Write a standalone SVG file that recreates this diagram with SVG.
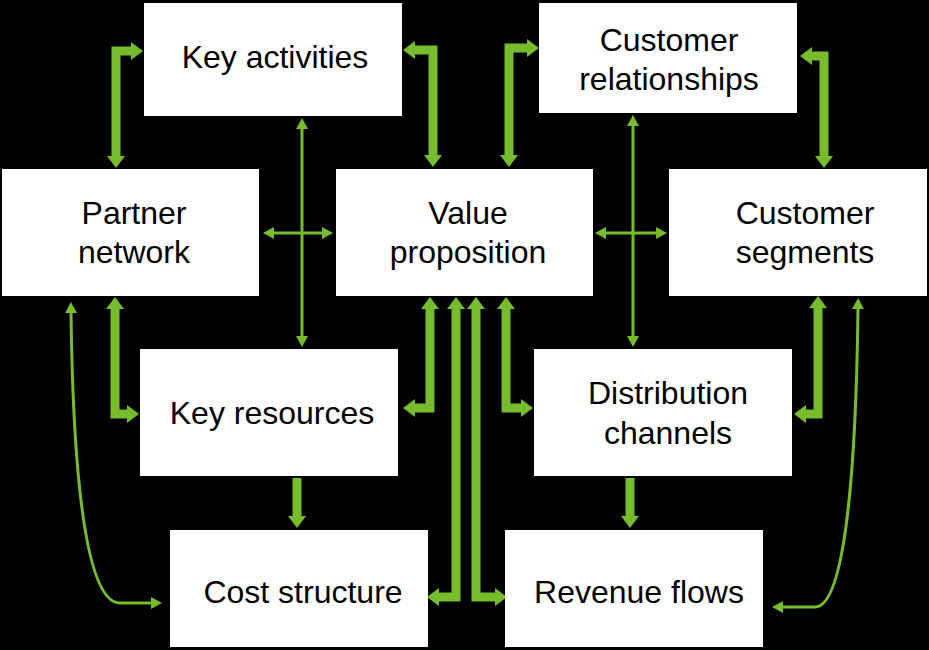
<svg xmlns="http://www.w3.org/2000/svg" width="929" height="650" viewBox="0 0 929 650">
<style>
.box{fill:#ffffff;stroke:none}
.lbl{font-family:"Liberation Sans",Arial,sans-serif;font-size:32px;fill:#000000;text-anchor:middle}
.thick{fill:none;stroke:#77BC2C;stroke-width:9;stroke-linejoin:miter;marker-start:url(#hk);marker-end:url(#hk)}
.thick1{fill:none;stroke:#77BC2C;stroke-width:9;marker-end:url(#hk)}
.thin{fill:none;stroke:#77BC2C;stroke-width:3;marker-start:url(#hn);marker-end:url(#hn)}
</style>
<defs>
<marker id="hk" viewBox="0 0 12 18" markerWidth="12" markerHeight="18" markerUnits="userSpaceOnUse" refX="0" refY="9" orient="auto-start-reverse">
<path d="M0,0 L12,9 L0,18 Z" fill="#77BC2C"/>
</marker>
<marker id="hn" viewBox="0 0 11 12" markerWidth="11" markerHeight="12" markerUnits="userSpaceOnUse" refX="0" refY="6" orient="auto-start-reverse">
<path d="M0,0 L11,6 L0,12 Z" fill="#77BC2C"/>
</marker>
</defs>
<rect x="0" y="0" width="929" height="650" fill="#000000"/>
<g id="connectors">
<path class="thick" d="M131,51 H116 V156"/>
<path class="thick" d="M415,50 H433 V155"/>
<path class="thick" d="M527,48 H509 V155"/>
<path class="thick" d="M812,56 H824 V156"/>
<path class="thick" d="M115,309 V414 H127"/>
<path class="thick" d="M430,309 V408 H415"/>
<path class="thick" d="M456,309 V597 H439"/>
<path class="thick" d="M476,309 V597 H495"/>
<path class="thick" d="M506,309 V408 H521"/>
<path class="thick" d="M818,308 V414 H806"/>
<path class="thick1" d="M297,478 V516"/>
<path class="thick1" d="M630,478 V516"/>
<path class="thin" d="M302,129 V336"/>
<path class="thin" d="M274,233 H322"/>
<path class="thin" d="M633,126 V336"/>
<path class="thin" d="M606,233 H656"/>
<path class="thin" d="M71,313 C73,470 85,603 120,603 L151,603"/>
<path class="thin" d="M858,309 C856,470 845,607 815,607 L783,607"/>
</g>
<g id="key-activities"><rect class="box" x="144" y="3" width="258" height="113"/><text class="lbl" x="275" y="68">Key activities</text></g>
<g id="customer-relationships"><rect class="box" x="539" y="3" width="258" height="110"/><text class="lbl" x="669" y="51">Customer</text><text class="lbl" x="669" y="90">relationships</text></g>
<g id="partner-network"><rect class="box" x="2" y="169" width="257" height="127"/><text class="lbl" x="134" y="224">Partner</text><text class="lbl" x="134" y="263">network</text></g>
<g id="value-proposition"><rect class="box" x="336" y="169" width="257" height="127"/><text class="lbl" x="468" y="224">Value</text><text class="lbl" x="468" y="263">proposition</text></g>
<g id="customer-segments"><rect class="box" x="669" y="169" width="258" height="127"/><text class="lbl" x="805" y="224">Customer</text><text class="lbl" x="805" y="263">segments</text></g>
<g id="key-resources"><rect class="box" x="140" y="349" width="258" height="127"/><text class="lbl" x="272" y="424">Key resources</text></g>
<g id="distribution-channels"><rect class="box" x="534" y="349" width="258" height="127"/><text class="lbl" x="668" y="404">Distribution</text><text class="lbl" x="668" y="444">channels</text></g>
<g id="cost-structure"><rect class="box" x="170" y="530" width="258" height="117"/><text class="lbl" x="303" y="603">Cost structure</text></g>
<g id="revenue-flows"><rect class="box" x="505" y="530" width="258" height="117"/><text class="lbl" x="639" y="603">Revenue flows</text></g>
</svg>
